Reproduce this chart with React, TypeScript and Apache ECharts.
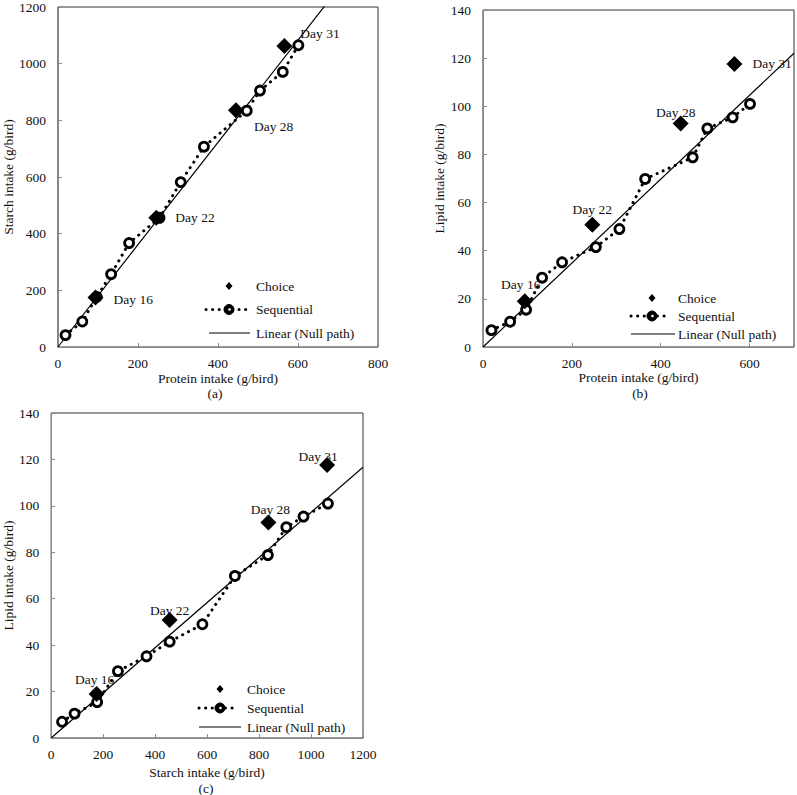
import React, { useEffect, useRef } from "react";
import * as echarts from "echarts";

// Sequential feeding path (12 sampling points)
const seqProtein = [19, 61, 97, 133, 178, 254, 307, 365, 472, 505, 562, 601];
const seqStarch = [42, 90, 177, 257, 367, 456, 582, 707, 834, 905, 971, 1065];
const seqLipid = [7.0, 10.5, 15.5, 28.8, 35.2, 41.5, 49.0, 69.8, 78.8, 90.8, 95.4, 101.0];

// Choice feeding (days)
const choiceDays = ["Day 16", "Day 22", "Day 28", "Day 31"];
const choiceProtein = [94, 246, 445, 566];
const choiceStarch = [175, 456, 836, 1062];
const choiceLipid = [19.0, 50.8, 92.8, 117.6];

// Null path slopes (linear through origin)
const slopeStarchPerProtein = 1.805;
const slopeLipidPerProtein = 0.1743;
const slopeLipidPerStarch = 0.0972;

// Axis settings
const panelXMax = [800, 700, 1200];
const panelYMax = [1200, 140, 140];
const panelXInterval = [200, 200, 200];
const panelYInterval = [200, 20, 20];
const panelXName = ["Protein intake (g/bird)", "Protein intake (g/bird)", "Starch intake (g/bird)"];
const panelYName = ["Starch intake (g/bird)", "Lipid intake (g/bird)", "Lipid intake (g/bird)"];
const panelCaption = ["(a)", "(b)", "(c)"];
const legendNames = ["Choice", "Sequential", "Linear (Null path)"];

const FONT = "Liberation Serif";
const TXT = "#111";
const FS = 13.5;

// Layout (style)
const grids = [
  { left: 51, top: 5, width: 327, height: 342 },
  { left: 483, top: 10, width: 312, height: 337 },
  { left: 49, top: 413, width: 314, height: 325 },
];
const xNameGap = [24, 23, 27];
const yNameGap = [36, 34, 35];
const captionPos = [
  [215, 393],
  [640, 393],
  [206, 788],
];
// label offsets [dx, dy, align]
const labelOffsets: [number, number, string][][] = [
  [[18, 2, "left"], [19, 0, "left"], [18, 16, "left"], [16, -13, "left"]],
  [[-4, -17, "center"], [0, -15, "center"], [-5, -11, "center"], [18, 0, "left"]],
  [[-2, -14, "center"], [0, -10, "center"], [2, -13, "center"], [-9, -9, "center"]],
];
// legend layout: [iconCenterX, row1Y, rowGap, dotsStart, dotsEnd, lineStart, lineEnd, textX]
const legendLayout = [
  [229, 286, 23.5, 206, 249, 209, 250, 256],
  [652, 298, 18, 631, 668, 631, 675, 678],
  [220, 689, 19, 199, 238, 199, 241, 247],
];

function zip(a: number[], b: number[]) {
  return a.map((v, i) => [v, b[i]]);
}

export default function App() {
  const ref = useRef<HTMLDivElement>(null);
  useEffect(() => {
    document.body.style.margin = "0";
    if (!ref.current) return;
    const chart = echarts.init(ref.current, undefined, { renderer: "svg" });

    const pairs = [
      { seq: zip(seqProtein, seqStarch), ch: zip(choiceProtein, choiceStarch), slope: slopeStarchPerProtein },
      { seq: zip(seqProtein, seqLipid), ch: zip(choiceProtein, choiceLipid), slope: slopeLipidPerProtein },
      { seq: zip(seqStarch, seqLipid), ch: zip(choiceStarch, choiceLipid), slope: slopeLipidPerStarch },
    ];

    const xAxis = pairs.map((_, i) => ({
      type: "value",
      gridIndex: i,
      min: 0,
      max: panelXMax[i],
      interval: panelXInterval[i],
      name: panelXName[i],
      nameLocation: "middle",
      nameGap: xNameGap[i],
      nameTextStyle: { fontFamily: FONT, fontSize: FS, color: TXT },
      axisLine: { show: true, lineStyle: { color: "#8a8a8a", width: 1 } },
      axisTick: { show: true, inside: true, length: 4, lineStyle: { color: "#8a8a8a" } },
      axisLabel: {
        fontFamily: FONT,
        fontSize: FS,
        color: TXT,
        margin: 9,
        formatter: (v: number) => (v % panelXInterval[i] !== 0 ? "" : String(v)),
      },
      splitLine: { show: false },
    }));
    const yAxis = pairs.map((_, i) => ({
      type: "value",
      gridIndex: i,
      min: 0,
      max: panelYMax[i],
      interval: panelYInterval[i],
      name: panelYName[i],
      nameLocation: "middle",
      nameGap: yNameGap[i],
      nameTextStyle: { fontFamily: FONT, fontSize: FS, color: TXT },
      axisLine: { show: true, lineStyle: { color: "#8a8a8a", width: 1 } },
      axisTick: { show: true, inside: true, length: 4, lineStyle: { color: "#8a8a8a" } },
      axisLabel: { fontFamily: FONT, fontSize: FS, color: TXT, margin: 12, formatter: (v: number) => String(v) },
      splitLine: { show: false },
    }));

    const series: any[] = [];
    pairs.forEach((p, i) => {
      const xEnd = panelXMax[i];
      series.push({
        name: "Linear (Null path)",
        type: "line",
        xAxisIndex: i,
        yAxisIndex: i,
        data: [
          [0, 0],
          [xEnd, xEnd * p.slope],
        ],
        symbol: "none",
        lineStyle: { color: "#000", width: 1.2 },
        clip: true,
        z: 1,
      });
      series.push({
        name: "Sequential",
        type: "line",
        xAxisIndex: i,
        yAxisIndex: i,
        data: p.seq,
        symbol: "circle",
        symbolSize: 9,
        itemStyle: { color: "#fff", borderColor: "#000", borderWidth: 2.8, opacity: 1 },
        lineStyle: { color: "#000", width: 3, type: [0.1, 6.5], cap: "round" },
        z: 2,
      });
      series.push({
        name: "Choice",
        type: "scatter",
        xAxisIndex: i,
        yAxisIndex: i,
        symbol: "diamond",
        symbolSize: 16,
        itemStyle: { color: "#000", opacity: 1 },
        z: 3,
        data: p.ch.map((v, k) => ({
          value: v,
          label: {
            show: true,
            formatter: choiceDays[k],
            position: "inside",
            offset: [labelOffsets[i][k][0], labelOffsets[i][k][1]],
            align: labelOffsets[i][k][2],
            verticalAlign: "middle",
            fontFamily: FONT,
            fontSize: FS,
            color: TXT,
            textBorderWidth: 0,
            textBorderColor: "transparent",
            textShadowBlur: 0,
          },
        })),
      });
    });

    const graphic: any[] = [];
    legendLayout.forEach((L, i) => {
      const [cx, y1, gap, d0, d1, l0, l1, tx] = L;
      const y2 = y1 + gap;
      const y3 = y1 + 2 * gap;
      graphic.push({
        type: "polygon",
        shape: { points: [[cx, y1 - 4], [cx + 3.5, y1], [cx, y1 + 4], [cx - 3.5, y1]] },
        style: { fill: "#000" },
      });
      graphic.push({
        type: "line",
        shape: { x1: d0, y1: y2, x2: d1, y2: y2 },
        style: { stroke: "#000", lineWidth: 3, lineDash: [0.1, 6.5], lineCap: "round" },
      });
      graphic.push({
        type: "circle",
        shape: { cx, cy: y2, r: 5 },
        style: { fill: "#000", stroke: "#000", lineWidth: 1 },
      });
      graphic.push({
        type: "circle",
        shape: { cx: cx + 0.5, cy: y2, r: 1.3 },
        style: { fill: "#fff" },
      });
      graphic.push({
        type: "line",
        shape: { x1: l0, y1: y3, x2: l1, y2: y3 },
        style: { stroke: "#555", lineWidth: 1.5 },
      });
      [y1, y2, y3].forEach((yy, k) => {
        graphic.push({
          type: "text",
          x: tx,
          y: yy,
          style: {
            text: legendNames[k],
            fontFamily: FONT,
            fontSize: FS,
            fill: TXT,
            verticalAlign: "middle",
          },
        });
      });
      graphic.push({
        type: "text",
        x: captionPos[i][0],
        y: captionPos[i][1],
        style: {
          text: panelCaption[i],
          fontFamily: FONT,
          fontSize: FS,
          fill: TXT,
          align: "center",
          verticalAlign: "middle",
        },
      });
    });

    chart.setOption({
      animation: false,
      backgroundColor: "#fff",
      grid: grids.map((g) => ({ ...g, show: true, borderColor: "#333", borderWidth: 1, backgroundColor: "transparent" })),
      xAxis,
      yAxis,
      series,
      graphic,
    });
    return () => chart.dispose();
  }, []);
  return <div ref={ref} style={{ width: 797, height: 795 }} />;
}
